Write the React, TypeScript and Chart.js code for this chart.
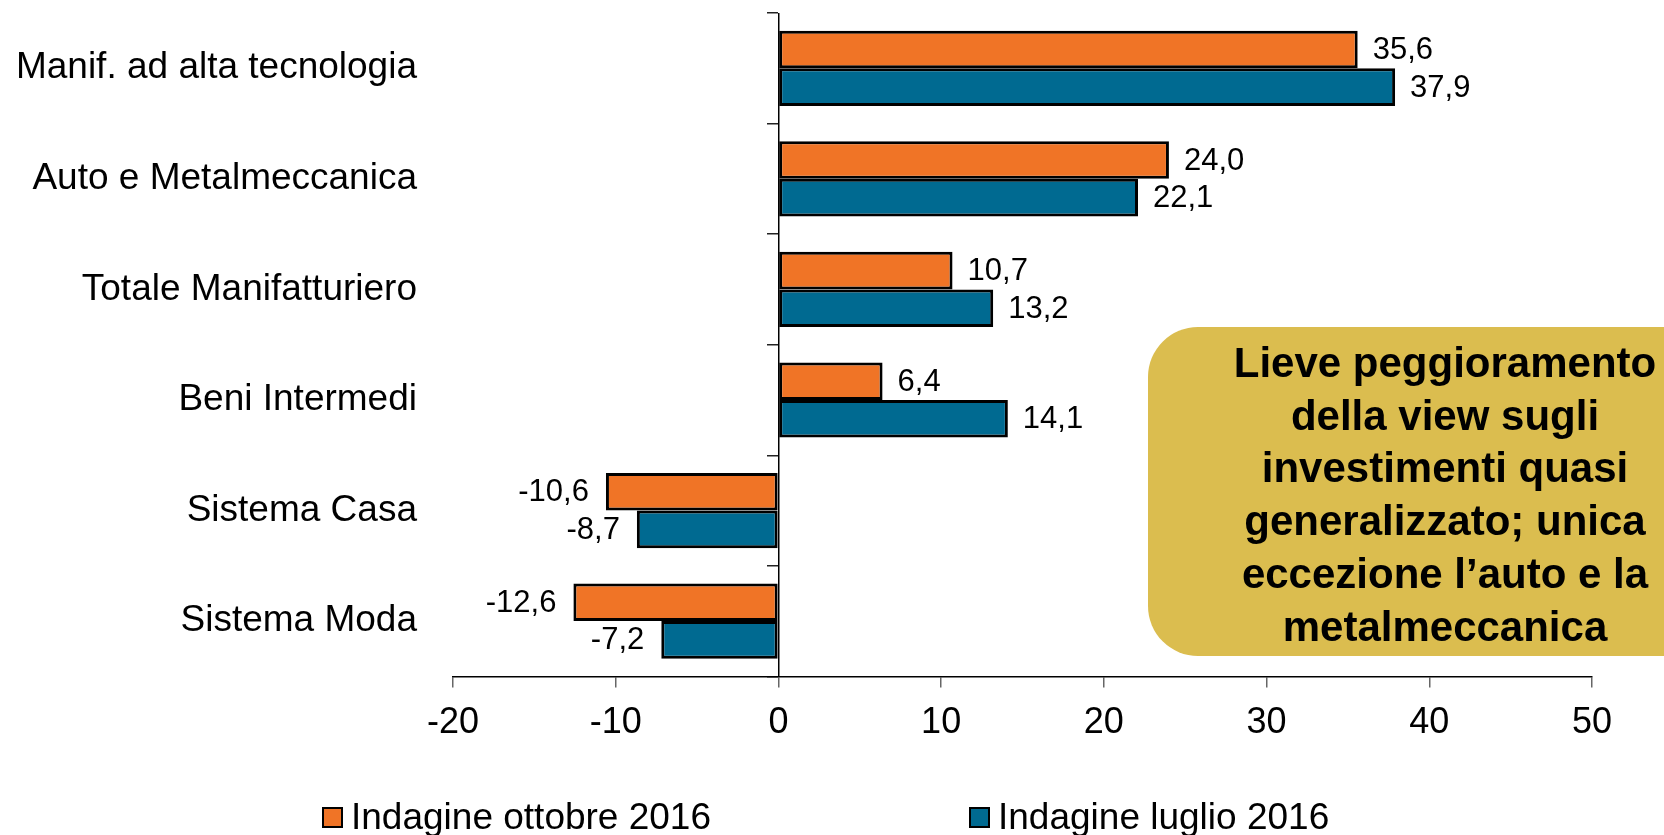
import React, { useEffect, useRef } from 'react';
import { Chart, registerables } from 'chart.js';

Chart.register(...registerables);

const FONT = '"Liberation Sans", Arial, Helvetica, sans-serif';

const categories = [
  'Manif. ad alta tecnologia',
  'Auto e Metalmeccanica',
  'Totale Manifatturiero',
  'Beni Intermedi',
  'Sistema Casa',
  'Sistema Moda',
];
const ottobre2016 = [35.6, 24.0, 10.7, 6.4, -10.6, -12.6];
const luglio2016 = [37.9, 22.1, 13.2, 14.1, -8.7, -7.2];
const seriesNames = ['Indagine ottobre 2016', 'Indagine luglio 2016'];
const seriesColors = ['#F07426', '#006A91'];
const xTicksMin = -20;
const xTicksMax = 50;
const xTicksStep = 10;
const noteLines = [
  'Lieve peggioramento',
  'della view sugli',
  'investimenti quasi',
  'generalizzato; unica',
  'eccezione l\u2019auto e la',
  'metalmeccanica',
];

const valueLabels = {
  id: 'valueLabels',
  afterDatasetsDraw(chart: any) {
    const ctx = chart.ctx;
    ctx.save();
    ctx.font = `31px ${FONT}`;
    ctx.fillStyle = '#000';
    ctx.textBaseline = 'middle';
    chart.data.datasets.forEach((ds: any, di: number) => {
      const meta = chart.getDatasetMeta(di);
      meta.data.forEach((bar: any, i: number) => {
        const v = ds.data[i] as number;
        const txt = v.toFixed(1).replace('.', ',');
        if (v >= 0) {
          ctx.textAlign = 'left';
          ctx.fillText(txt, bar.x + 15, bar.y + 1);
        } else {
          ctx.textAlign = 'right';
          ctx.fillText(txt, bar.x - 17, bar.y + 1);
        }
      });
    });
    ctx.restore();
  },
};

export default function App() {
  const ref = useRef<HTMLCanvasElement | null>(null);

  useEffect(() => {
    if (!ref.current) return;
    const chart = new Chart(ref.current, {
      type: 'bar',
      data: {
        labels: categories,
        datasets: [
          {
            label: seriesNames[0],
            data: ottobre2016,
            backgroundColor: seriesColors[0],
            borderColor: '#000',
            borderWidth: 3,
            borderSkipped: false,
            categoryPercentage: 0.68,
            barPercentage: 1,
          },
          {
            label: seriesNames[1],
            data: luglio2016,
            backgroundColor: seriesColors[1],
            borderColor: '#000',
            borderWidth: 3,
            borderSkipped: false,
            categoryPercentage: 0.68,
            barPercentage: 1,
          },
        ],
      },
      options: {
        indexAxis: 'y',
        responsive: false,
        animation: false,
        devicePixelRatio: 1,
        layout: { padding: { left: 0, right: 72, top: 13, bottom: 76.4 } },
        plugins: {
          legend: { display: false },
          tooltip: { enabled: false },
        },
        scales: {
          x: {
            type: 'linear',
            min: xTicksMin,
            max: xTicksMax,
            ticks: {
              stepSize: xTicksStep,
              color: '#000',
              font: { family: FONT, size: 36 },
              padding: 14,
            },
            grid: {
              color: (c: any) => (c.tick && c.tick.value === 0 ? '#000' : 'rgba(0,0,0,0)'),
              lineWidth: 1.5,
              tickColor: '#666',
              tickLength: 11,
              drawTicks: true,
            },
            border: { display: true, color: '#000', width: 1.5 },
          },
          y: {
            type: 'category',
            position: 'left',
            grid: { display: false, drawTicks: false },
            border: { display: false },
            ticks: {
              color: '#000',
              font: { family: FONT, size: 37 },
              padding: 36,
            },
            afterFit: (s: any) => {
              s.width = 453;
              s.paddingTop = 0;
              s.paddingBottom = 0;
            },
          },
          y2: {
            type: 'category',
            position: { x: 0 },
            offset: true,
            grid: {
              offset: true,
              drawOnChartArea: false,
              drawTicks: true,
              tickLength: 11,
              color: '#222',
              lineWidth: 1.5,
            },
            ticks: { display: false },
            border: { display: false },
            afterFit: (s: any) => {
              s.width = 0;
              s.paddingTop = 0;
              s.paddingBottom = 0;
            },
          },
        },
      },
      plugins: [valueLabels],
    } as any);
    return () => chart.destroy();
  }, []);

  return (
    <div
      style={{
        position: 'fixed',
        left: 0,
        top: 0,
        width: 1664,
        height: 835,
        overflow: 'hidden',
        background: '#fff',
        fontFamily: FONT,
      }}
    >
      <canvas ref={ref} width={1664} height={835} style={{ display: 'block' }} />
      <div
        style={{
          position: 'absolute',
          left: 1148,
          top: 327,
          width: 594,
          height: 329,
          boxSizing: 'border-box',
          paddingTop: 10,
          borderRadius: 50,
          background: '#DBBD4F',
          color: '#000',
          fontWeight: 'bold',
          fontSize: 42,
          lineHeight: '52.7px',
          textAlign: 'center',
          whiteSpace: 'nowrap',
        }}
      >
        {noteLines.map((l) => (
          <div key={l}>{l}</div>
        ))}
      </div>
      <div
        style={{
          position: 'absolute',
          left: 322,
          top: 797,
          height: 40,
          display: 'flex',
          alignItems: 'center',
        }}
      >
        {seriesNames.map((name, i) => (
          <div
            key={name}
            style={{ display: 'flex', alignItems: 'center', width: i === 0 ? 647 : 'auto' }}
          >
            <span
              style={{
                display: 'inline-block',
                width: 21,
                height: 21,
                boxSizing: 'border-box',
                border: '2px solid #000',
                background: seriesColors[i],
                marginRight: 8,
              }}
            />
            <span style={{ fontSize: 37, lineHeight: '40px', color: '#000', whiteSpace: 'nowrap' }}>
              {name}
            </span>
          </div>
        ))}
      </div>
    </div>
  );
}
